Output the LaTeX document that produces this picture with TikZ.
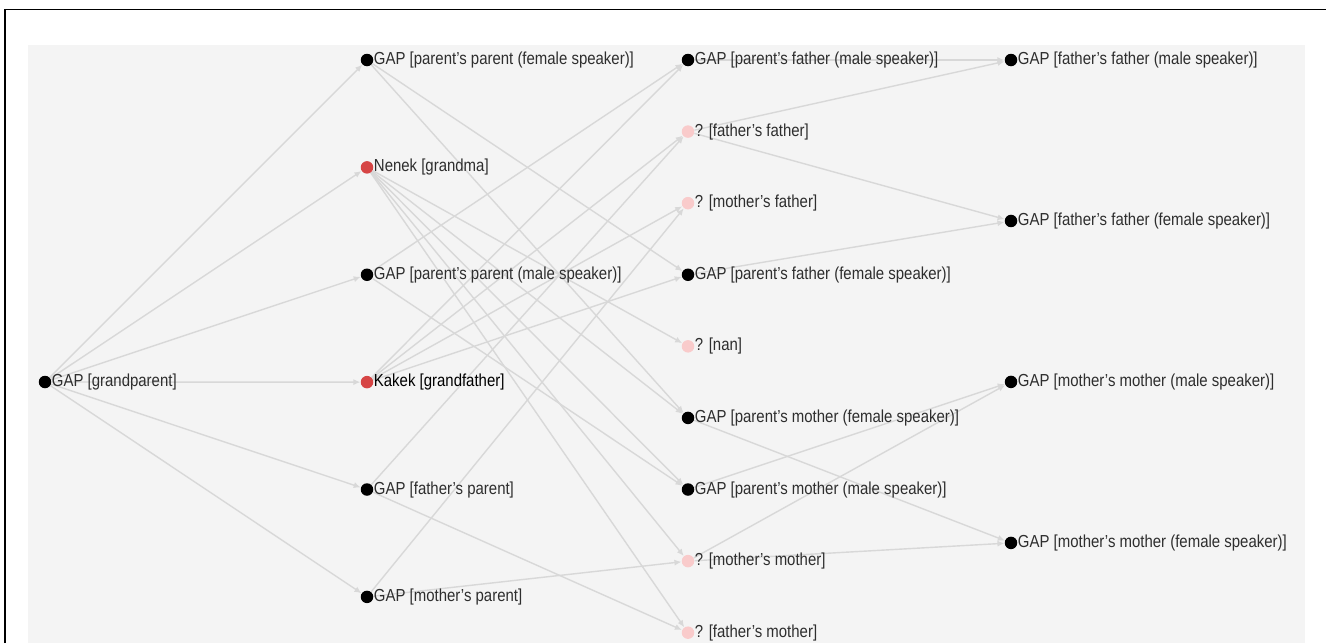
\documentclass[tikz,border=0pt]{standalone}
\usepackage{fontspec}
\setmainfont{Liberation Sans}[FakeStretch=0.86]
\usetikzlibrary{positioning, arrows.meta}
\definecolor{panel}{HTML}{F4F4F4}
\definecolor{edge}{HTML}{D8D8D8}
\definecolor{txt}{HTML}{2E2E2E}
\definecolor{kin}{HTML}{D64545}
\definecolor{unk}{HTML}{F9CBCB}
\pgfdeclarelayer{back}
\pgfdeclarelayer{wires}
\pgfsetlayers{back,wires,main}
\tikzset{
  gap/.style={circle, fill=black, inner sep=0pt, minimum size=0.25cm, label distance=0.09cm},
  term/.style={gap, fill=kin},
  qq/.style={gap, fill=unk},
  lbl/.style={inner sep=0pt, text=txt, font=\fontsize{9.9pt}{12pt}\selectfont},
  link/.style={draw=edge, line width=0.8pt, -{Latex[length=4pt, width=3.5pt]}}
}

\begin{document}
\begin{tikzpicture}[x=0.02cm, y=-0.02cm]

  \useasboundingbox (0,0) rectangle (1326,643);
  \begin{pgfonlayer}{back}
    \fill[panel] (28,45) rectangle (1305,643);
    \draw[line width=0.6pt] (5,643) -- (5,9.5) -- (1326,9.5);
  \end{pgfonlayer}

  % root
  \node (G) [gap, label={[lbl]right:{GAP [grandparent]}}] at (45,382) {};

  % grandparents
  \node (A1) [gap, label={[lbl]right:{GAP [parent's parent (female speaker)]}}] at (367,60) {};
  \node (A2) [term, below of=A1, node distance=2.148cm, label={[lbl]right:{Nenek [grandma]}}] {};
  \node (A3) [gap, below of=A2, node distance=2.148cm, label={[lbl]right:{GAP [parent's parent (male speaker)]}}] {};
  \node (A4) [term, below of=A3, node distance=2.148cm, label={[lbl, text=black]right:{Kakek [grandfather]}}] {};
  \node (A5) [gap, below of=A4, node distance=2.148cm, label={[lbl]right:{GAP [father's parent]}}] {};
  \node (A6) [gap, below of=A5, node distance=2.148cm, label={[lbl]right:{GAP [mother's parent]}}] {};

  % grandfathers / grandmothers
  \node (B1) [gap, label={[lbl]right:{GAP [parent's father (male speaker)]}}] at (688,60) {};
  \node (B2) [qq, below of=B1, node distance=1.432cm, label={[lbl]right:{? [father's father]}}] {};
  \node (B3) [qq, below of=B2, node distance=1.432cm, label={[lbl]right:{? [mother's father]}}] {};
  \node (B4) [gap, below of=B3, node distance=1.432cm, label={[lbl]right:{GAP [parent's father (female speaker)]}}] {};
  \node (B5) [qq, below of=B4, node distance=1.432cm, label={[lbl]right:{? [nan]}}] {};
  \node (B6) [gap, below of=B5, node distance=1.432cm, label={[lbl]right:{GAP [parent's mother (female speaker)]}}] {};
  \node (B7) [gap, below of=B6, node distance=1.432cm, label={[lbl]right:{GAP [parent's mother (male speaker)]}}] {};
  \node (B8) [qq, below of=B7, node distance=1.432cm, label={[lbl]right:{? [mother's mother]}}] {};
  \node (B9) [qq, below of=B8, node distance=1.432cm, label={[lbl]right:{? [father's mother]}}] {};

  % speaker split
  \node (C1) [gap, label={[lbl]right:{GAP [father's father (male speaker)]}}] at (1011,60) {};
  \node (C2) [gap, below of=C1, node distance=3.22cm, label={[lbl]right:{GAP [father's father (female speaker)]}}] {};
  \node (C3) [gap, below of=C2, node distance=3.22cm, label={[lbl]right:{GAP [mother's mother (male speaker)]}}] {};
  \node (C4) [gap, below of=C3, node distance=3.22cm, label={[lbl]right:{GAP [mother's mother (female speaker)]}}] {};

  \begin{pgfonlayer}{wires}
  \foreach \t in {A1,A2,A3,A4,A5,A6}
    \draw [link] (G) -- (\t);

  \draw [link] (A1) -- (B4);
  \draw [link] (A1) -- (B6);
  \foreach \t in {B5,B6,B7,B8,B9}
    \draw [link] (A2) -- (\t);
  \draw [link] (A3) -- (B1);
  \draw [link] (A3) -- (B7);
  \foreach \t in {B1,B2,B3,B4}
    \draw [link] (A4) -- (\t);
  \draw [link] (A5) -- (B2);
  \draw [link] (A5) -- (B9);
  \draw [link] (A6) -- (B3);
  \draw [link] (A6) -- (B8);

  \draw [link] (B1) -- (C1);
  \draw [link] (B2) -- (C1);
  \draw [link] (B2) -- (C2);
  \draw [link] (B4) -- (C2);
  \draw [link] (B7) -- (C3);
  \draw [link] (B8) -- (C3);
  \draw [link] (B6) -- (C4);
  \draw [link] (B8) -- (C4);
  \end{pgfonlayer}

\end{tikzpicture}
\end{document}
